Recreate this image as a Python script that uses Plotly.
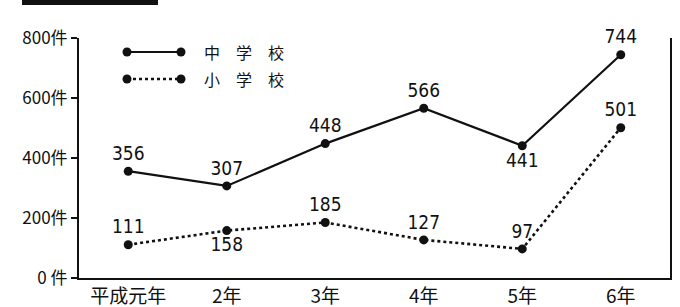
import plotly.graph_objects as go

categories = ["平成元年", "2年", "3年", "4年", "5年", "6年"]
junior_high = [356, 307, 448, 566, 441, 744]   # 中学校
elementary = [111, 158, 185, 127, 97, 501]     # 小学校
junior_pos = ["top center", "top center", "top center", "top center", "bottom center", "top center"]
elem_pos = ["top center", "bottom center", "top center", "top center", "top center", "top center"]
y_ticks = [0, 200, 400, 600, 800]
y_ticklabels = ["0 件", "200件", "400件", "600件", "800件"]
legend_names = ["中　学　校", "小　学　校"]

W, H = 680, 307
L, R, T, B = 79, 10, 38, 29
PW, PH = W - L - R, H - T - B

def px(x):
    return (x - L) / PW

def py(y):
    return (H - B - y) / PH

num_font = dict(family="Liberation Sans Narrow, DejaVu Sans Condensed, Liberation Sans, sans-serif", size=19, color="#111")

fig = go.Figure()
fig.add_trace(go.Scatter(
    x=categories, y=junior_high, mode="lines+markers+text",
    text=[str(v) for v in junior_high], textposition=junior_pos,
    textfont=num_font,
    line=dict(color="#111", width=2.2),
    marker=dict(color="#111", size=9),
    showlegend=False, cliponaxis=False,
))
fig.add_trace(go.Scatter(
    x=categories, y=elementary, mode="lines+markers+text",
    text=[str(v) for v in elementary], textposition=elem_pos,
    textfont=num_font,
    line=dict(color="#111", width=2.6, dash="dot"),
    marker=dict(color="#111", size=9),
    showlegend=False, cliponaxis=False,
))

shapes = []
# black title bar at top-left
shapes.append(dict(type="rect", xref="paper", yref="paper",
                   x0=px(22), x1=px(158), y0=py(5), y1=py(-2),
                   fillcolor="#111", line=dict(width=0)))
annotations = []
for i, (name, dash, ly) in enumerate(zip(legend_names, ["solid", "dot"], [52, 79])):
    shapes.append(dict(type="line", xref="paper", yref="paper",
                       x0=px(127), x1=px(181), y0=py(ly), y1=py(ly),
                       line=dict(color="#111", width=2.2 if dash == "solid" else 2.6, dash=dash)))
    for cx in (127, 181):
        shapes.append(dict(type="circle", xref="paper", yref="paper",
                           xsizemode="pixel", ysizemode="pixel",
                           xanchor=px(cx), yanchor=py(ly),
                           x0=-4.5, x1=4.5, y0=-4.5, y1=4.5,
                           fillcolor="#111", line=dict(width=0)))
    annotations.append(dict(xref="paper", yref="paper", x=px(202), y=py(ly),
                            xanchor="left", yanchor="middle", showarrow=False,
                            text=name,
                            font=dict(family="Noto Sans CJK JP", size=16, color="#111")))

fig.update_layout(
    width=W, height=H,
    margin=dict(l=L, r=R, t=T, b=B, pad=0),
    paper_bgcolor="white", plot_bgcolor="white",
    shapes=shapes, annotations=annotations,
    xaxis=dict(
        range=[-0.5, 5.5], showgrid=False, zeroline=False, automargin=False,
        showline=True, linecolor="#111", linewidth=2,
        ticks="", tickfont=dict(family="Noto Sans CJK JP", size=19, color="#111"),
        fixedrange=True,
    ),
    yaxis=dict(
        range=[0, 800], showgrid=False, zeroline=False, automargin=False,
        showline=True, linecolor="#111", linewidth=2, mirror=True,
        tickvals=y_ticks, ticktext=y_ticklabels,
        ticks="outside", ticklen=6, tickwidth=1.5, tickcolor="#111",
        tickfont=dict(family="Liberation Sans Narrow, Noto Sans CJK JP, sans-serif", size=17, color="#111"),
        fixedrange=True,
    ),
)

fig.write_html(
    "out.html",
    config={"displayModeBar": False, "staticPlot": True},
    post_script="document.body.style.margin='0';document.body.style.overflow='hidden';",
)
